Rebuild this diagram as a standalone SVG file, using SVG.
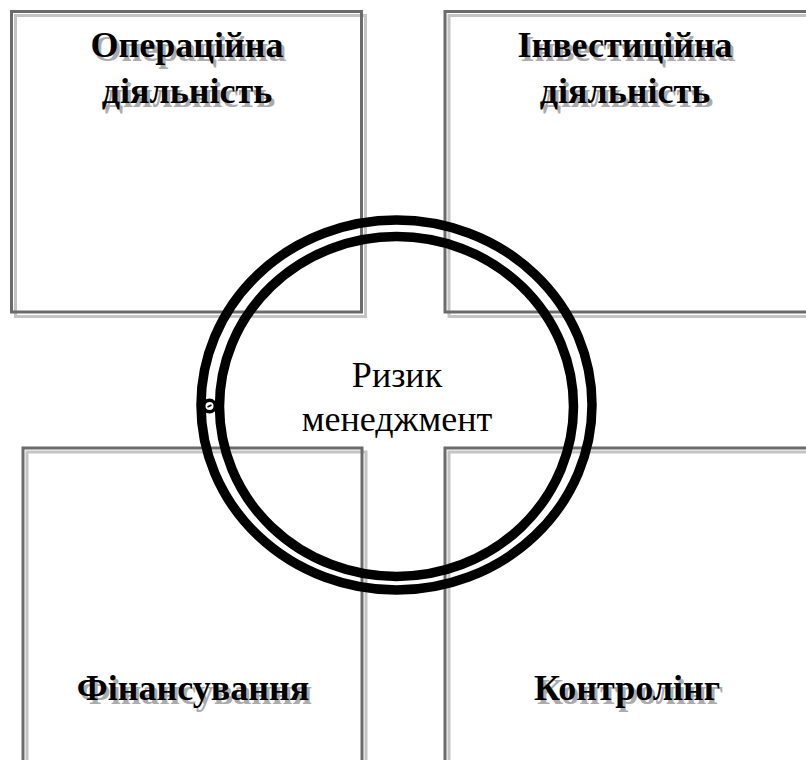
<svg xmlns="http://www.w3.org/2000/svg" width="806" height="760" viewBox="0 0 806 760">
<style>
.shadow{fill:none;stroke:#c4c4c4;stroke-width:3}
.frame{fill:none;stroke:#6b6b6b;stroke-width:3}
.title{font-family:"Liberation Serif","Times New Roman",serif;font-weight:bold;font-size:36px;text-anchor:middle}
.tshadow{fill:#ababab}
.tmain{fill:#000}
.ring{fill:none;stroke:#000;stroke-width:9.5}
.center{font-family:"Liberation Serif","Times New Roman",serif;font-size:36px;text-anchor:middle;fill:#000}
</style>
<rect width="806" height="760" fill="#fff"/>
<g id="operational">
<rect class="shadow" x="15.5" y="15.5" width="350" height="301"/>
<rect class="frame" x="11.5" y="11.5" width="350" height="300.5"/>
<text class="title tshadow" x="190" y="61">Операційна</text>
<text class="title tmain" x="187" y="57">Операційна</text>
<text class="title tshadow" x="190" y="107">діяльність</text>
<text class="title tmain" x="187" y="103">діяльність</text>
</g>
<g id="investment">
<rect class="shadow" x="449" y="15.5" width="400" height="301"/>
<rect class="frame" x="445" y="11.5" width="400" height="300.5"/>
<text class="title tshadow" x="628" y="61">Інвестиційна</text>
<text class="title tmain" x="625" y="57">Інвестиційна</text>
<text class="title tshadow" x="628" y="107">діяльність</text>
<text class="title tmain" x="625" y="103">діяльність</text>
</g>
<g id="financing">
<rect class="shadow" x="27" y="452" width="339" height="400"/>
<rect class="frame" x="23" y="448" width="339" height="400"/>
<text class="title tshadow" x="196" y="704">Фінансування</text>
<text class="title tmain" x="193" y="700">Фінансування</text>
</g>
<g id="controlling">
<rect class="shadow" x="449" y="452" width="400" height="400"/>
<rect class="frame" x="445" y="448" width="400" height="400"/>
<text class="title tshadow" x="630" y="704">Контролінг</text>
<text class="title tmain" x="627" y="700">Контролінг</text>
</g>
<g id="risk-management">
<ellipse class="ring" cx="396.5" cy="405" rx="195.5" ry="185"/>
<ellipse class="ring" cx="396.5" cy="406.5" rx="177" ry="170"/>
<circle cx="209.5" cy="406" r="7.5" fill="#000"/>
<circle cx="209.5" cy="406" r="4" fill="#fff"/>
<line x1="207.5" y1="407" x2="211.5" y2="405" stroke="#000" stroke-width="1.5"/>
<text class="center" x="397" y="387">Ризик</text>
<text class="center" x="397" y="431">менеджмент</text>
</g>
<g id="connectors"></g>
</svg>
